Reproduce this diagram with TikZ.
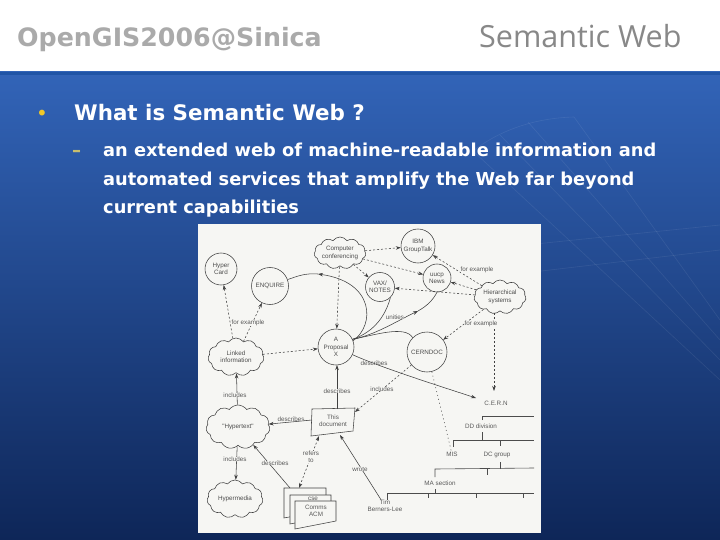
\documentclass[tikz,border=0pt]{standalone}
\usepackage{fontspec}
\setmainfont{DejaVu Sans}
\newfontfamily\labfont{Liberation Sans}
\newfontfamily\titlefont{Open Sans}
\usetikzlibrary{shapes.symbols,arrows.meta}
\definecolor{paper}{RGB}{246,246,243}
\tikzset{
  ink/.style={draw=black!75,line width=.55pt},
  cloudnode/.style={shape=cloud,cloud ignores aspect,ink,fill=none,cloud puffs=11,cloud puff arc=110,inner sep=0pt,align=center,font=\labfont\fontsize{6.3}{7.3}\selectfont,text=black!70},
  roundnode/.style={shape=circle,ink,fill=none,inner sep=0pt,align=center,font=\labfont\fontsize{6.3}{7.3}\selectfont,text=black!70},
  lab/.style={font=\labfont\fontsize{6.3}{7.3}\selectfont,text=black!65,inner sep=0pt,align=center},
  flab/.style={lab,fill=paper},
  dashline/.style={ink,dash pattern=on 2pt off 2pt,-{Stealth[length=5pt,width=3.5pt]}},
  solidline/.style={ink,-{Stealth[length=5pt,width=3.5pt]}},
  plainline/.style={ink},
  orgline/.style={draw=black!70,line width=.6pt},
  ray/.style={draw=white,opacity=.08,line width=.6pt},
  head/.style={anchor=base west,inner sep=0pt},
}
\begin{document}
\begin{tikzpicture}[x=1pt,y=-1pt]
\useasboundingbox (0,0) rectangle (720,540);
\fill[white] (0,0) rectangle (720,72);
\shade[top color={rgb,255:red,50;green,100;blue,184},middle color={rgb,255:red,36;green,84;blue,158},bottom color={rgb,255:red,14;green,38;blue,88}] (0,72) rectangle (720,540);
\fill[color={rgb,255:red,32;green,84;blue,166}] (0,72) rectangle (720,75);
% background arcs
\draw[ray] (473,151) .. controls (500,130) and (535,118) .. (574,117);
\draw[ray] (574,117) -- (720,320);
\draw[ray] (528,122) -- (720,340);
\draw[ray] (500,135) -- (720,360);
\draw[ray] (473,151) -- (720,380);
\draw[ray] (380,260) -- (720,225);
\draw[ray] (380,290) -- (720,250);
% header
\node[head,text={rgb,255:red,170;green,170;blue,170}] (htitle) at (17,47) {\fontsize{25.3}{28}\selectfont\bfseries OpenGIS2006@Sinica};
\node[head,text={rgb,255:red,136;green,136;blue,136}] (stitle) at (479,48) {\titlefont\fontsize{30.5}{36}\selectfont Semantic Web};
% body
\node[head,text={rgb,255:red,240;green,200;blue,40}] (bul) at (36,121) {\fontsize{20}{24}\selectfont •};
\node[head,text=white] (q) at (74,121) {\fontsize{21.4}{26}\selectfont\bfseries What is Semantic Web ?};
\node[head,text={rgb,255:red,200;green,190;blue,110}] (dash) at (72,157) {\fontsize{18}{22}\selectfont\bfseries –};
\node[head,text=white] (l1) at (103,157) {\fontsize{17.8}{22}\selectfont\bfseries an extended web of machine-readable information and};
\node[head,text=white] (l2) at (103,185.5) {\fontsize{17.8}{22}\selectfont\bfseries automated services that amplify the Web far beyond};
\node[head,text=white] (l3) at (103,214) {\fontsize{17.8}{22}\selectfont\bfseries current capabilities};
% scanned picture
\fill[paper] (198,224) rectangle (541,533);
% nodes
\node[roundnode,minimum size=32pt] (hyper) at (221,269) {Hyper\\Card};
\node[roundnode,minimum size=37pt] (enq) at (270,286) {ENQUIRE};
\node[cloudnode,minimum width=50pt,minimum height=32pt] (cc) at (340,253) {Computer\\conferencing};
\node[roundnode,minimum size=34pt] (ibm) at (418,246) {IBM\\GroupTalk};
\node[roundnode,minimum size=29pt] (vax) at (380,287) {VAX/\\NOTES};
\node[roundnode,minimum size=28pt] (uucp) at (437,278) {uucp\\News};
\node[cloudnode,minimum width=52pt,minimum height=34pt] (hier) at (500,297) {Hierarchical\\systems};
\node[cloudnode,minimum width=56pt,minimum height=38pt] (linked) at (236,357) {Linked\\information};
\node[roundnode,minimum size=36pt] (prop) at (336,347) {A\\Proposal\\X};
\node[roundnode,minimum size=40pt] (cerndoc) at (427,352) {CERNDOC};
\node[cloudnode,minimum width=64pt,minimum height=44pt] (hyptext) at (238,427) {"Hypertext"};
\node[cloudnode,minimum width=56pt,minimum height=38pt] (hypm) at (235,499) {Hypermedia};
% document shapes
\draw[ink,fill=paper] (312,409) -- (355,408) -- (353,431) -- (311,436) -- cycle;
\node[lab] (doc) at (333,421) {This\\document};
\draw[ink,fill=paper] (284,488) -- (326,488) -- (326,510) -- (284,518) -- cycle;
\draw[ink,fill=paper] (290,495) -- (331,495) -- (331,516) -- (290,524) -- cycle;
\node[lab] (cse) at (313,499) {cse};
\draw[ink,fill=paper] (295,501) -- (336,501) -- (336,521) -- (295,529) -- cycle;
\node[lab] (comms) at (316,511) {Comms\\ACM};
\coordinate (stackTop) at (290,488);
\coordinate (stackRef) at (299,488);
\coordinate (docTop) at (337,409);
\coordinate (docLeft) at (312,420);
\coordinate (docBot) at (319,436);
\coordinate (docBot2) at (340,435);
\coordinate (docRight) at (355,412);
\coordinate (cernTop) at (494,391);
\coordinate (hierBot) at (494,313);
\coordinate (cernLeft) at (476,398);
\coordinate (propBot) at (337,365);
% org chart text
\node[lab] (cern) at (496,403) {C.E.R.N};
\node[lab] (dd) at (481,426) {DD division};
\node[lab] (mis) at (452,454) {MIS};
\node[lab] (dc) at (497,455) {DC group};
\node[lab] (ma) at (440,483) {MA section};
\node[lab] (tim) at (385,506) {Tim\\Berners-Lee};
% org chart lines
\draw[orgline] (482,420) -- (482,416) -- (534,416);
\draw[orgline] (482,432) -- (482,440);
\draw[orgline] (453,447) -- (453,440) -- (534,440);
\draw[orgline] (500,440) -- (500,446);
\draw[orgline] (500,462) -- (500,469);
\draw[orgline] (435,477) -- (435,469) -- (534,468);
\draw[orgline] (487,469) -- (487,475);
\draw[orgline] (435,489) -- (435,493);
\draw[orgline] (387,500) -- (387,493) -- (534,493);
\draw[orgline] (428,493) -- (428,498);
\draw[orgline] (476,493) -- (476,498);
\draw[orgline] (523,493) -- (523,498);
% dashed arrows
\draw[dashline] (cc) -- (ibm);
\draw[dashline] (cc) -- (vax);
\draw[dashline] (cc) -- (uucp);
\draw[dashline] (cc) -- (prop);
\draw[dashline] (hier) -- (ibm);
\draw[dashline] (hier) -- (uucp);
\draw[dashline] (hier) -- (vax);
\draw[dashline] (hier) -- (cerndoc);
\draw[dashline] (hierBot) -- (cernTop);
\draw[dashline] (linked) -- (hyper);
\draw[dashline] (linked) -- (enq);
\draw[dashline] (linked) -- (prop);
\draw[dashline] (cerndoc) -- (docRight);
\draw[ink,dash pattern=on 1pt off 3pt] (cerndoc) -- (mis);
% solid links
\coordinate (e1) at (318,274);
\draw[solidline] (prop.20) .. controls (375,325) and (375,282) .. (e1);
\draw[plainline] (e1) .. controls (305,273) and (298,276) .. (enq.20);
\coordinate (u1) at (418,311);
\draw[plainline] (prop.25) .. controls (365,335) and (383,325) .. (vax.south east);
\draw[solidline] (prop.25) .. controls (375,335) and (395,322) .. (u1);
\draw[plainline] (u1) .. controls (427,306) and (433,300) .. (uucp.south);
\draw[plainline] (prop.25) .. controls (375,335) and (405,325) .. (cerndoc.north west);
\draw[solidline] (prop.-25) .. controls (380,367) and (430,383) .. (cernLeft);
\draw[solidline] (docTop) -- (propBot);
\draw[solidline] (hyptext) -- (linked);
\draw[solidline] (docLeft) -- (hyptext);
\draw[solidline] (hyptext) -- (hypm);
\draw[solidline] (stackTop) -- (hyptext);
\draw[ink,dash pattern=on 2pt off 2pt,{Stealth[length=5pt,width=3.5pt]}-{Stealth[length=5pt,width=3.5pt]}] (docBot) -- (stackRef);
\draw[solidline] (tim) -- (docBot2);
% labels
\node[flab] (l-a) at (248,323) {for example};
\node[flab] (l-b) at (395,317) {unities};
\node[flab] (l-c) at (477,270) {for example};
\node[flab] (l-d) at (481,324) {for example};
\node[lab] (l-e) at (374,363) {describes};
\node[flab] (l-f) at (382,389) {includes};
\node[flab] (l-g) at (337,391) {describes};
\node[flab] (l-h) at (235,395) {includes};
\node[flab] (l-i) at (291,419) {describes};
\node[flab] (l-j) at (235,459) {includes};
\node[flab] (l-k) at (275,463) {describes};
\node[flab] (l-l) at (311,457) {refers\\to};
\node[flab] (l-m) at (360,469) {wrote};
\end{tikzpicture}
\end{document}
